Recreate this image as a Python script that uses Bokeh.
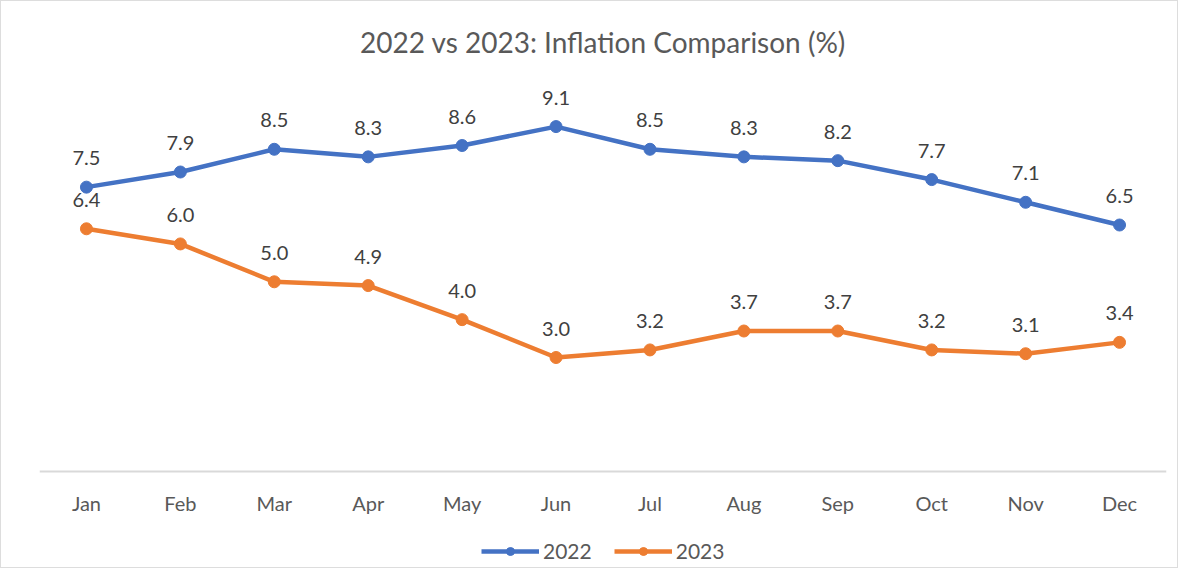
from bokeh.plotting import figure
from bokeh.models import ColumnDataSource, Range1d, FactorRange, Legend, LegendItem, LabelSet
from bokeh.core.properties import value
from bokeh.embed import file_html
from bokeh.resources import INLINE

months = ["Jan", "Feb", "Mar", "Apr", "May", "Jun", "Jul", "Aug", "Sep", "Oct", "Nov", "Dec"]
infl_2022 = [7.5, 7.9, 8.5, 8.3, 8.6, 9.1, 8.5, 8.3, 8.2, 7.7, 7.1, 6.5]
infl_2023 = [6.4, 6.0, 5.0, 4.9, 4.0, 3.0, 3.2, 3.7, 3.7, 3.2, 3.1, 3.4]

BLUE = "#4472C4"
ORANGE = "#ED7D31"
FONT = "Lato"

src = ColumnDataSource(dict(
    m=months, a=infl_2022, b=infl_2023,
    la=[f"{v:.1f}" for v in infl_2022],
    lb=[f"{v:.1f}" for v in infl_2023],
))

p = figure(x_range=FactorRange(*months), y_range=Range1d(-2.6, 10.555),
           width=1178, height=568, output_backend="svg", toolbar_location=None,
           min_border_left=38, min_border_right=13, min_border_top=70, min_border_bottom=0,
           title="2022 vs 2023: Inflation Comparison (%)")
p.title.align = "center"
p.title.text_font = FONT
p.title.text_font_size = "28px"
p.title.text_font_style = "normal"
p.title.text_color = "#595959"
p.title.standoff = 25

p.outline_line_color = None
p.xgrid.grid_line_color = None
p.ygrid.grid_line_color = None
p.yaxis.visible = False

p.xaxis.fixed_location = 0
p.xaxis.axis_line_color = "#D9D9D9"
p.xaxis.axis_line_width = 2
p.xaxis.major_tick_line_color = None
p.xaxis.minor_tick_line_color = None
p.xaxis.major_label_standoff = 14
p.xaxis.major_label_text_font = FONT
p.xaxis.major_label_text_font_size = "20px"
p.xaxis.major_label_text_color = "#595959"

l1 = p.line("m", "a", source=src, line_color=BLUE, line_width=4.5)
c1 = p.scatter("m", "a", source=src, size=12, fill_color=BLUE, line_color=BLUE)
l2 = p.line("m", "b", source=src, line_color=ORANGE, line_width=4.5)
c2 = p.scatter("m", "b", source=src, size=12, fill_color=ORANGE, line_color=ORANGE)

for col, ycol in (("la", "a"), ("lb", "b")):
    p.add_layout(LabelSet(x="m", y=ycol, text=col, source=src, y_offset=29,
                          text_align="center", text_baseline="middle",
                          text_font=value(FONT), text_font_size=value("20px"),
                          text_color="#404040"))

legend = Legend(items=[LegendItem(label="2022", renderers=[l1, c1]),
                       LegendItem(label="2023", renderers=[l2, c2])],
                orientation="horizontal", location=(442, 6),
                glyph_width=58, glyph_height=20, label_standoff=4, spacing=22,
                label_text_font=FONT, label_text_font_size="21px", label_text_color="#595959",
                border_line_color=None, background_fill_alpha=0, margin=0, padding=4)
p.add_layout(legend)

p.styles = {"border": "1px solid #DDDDDD"}

open("out.html", "w").write(file_html(p, INLINE))
